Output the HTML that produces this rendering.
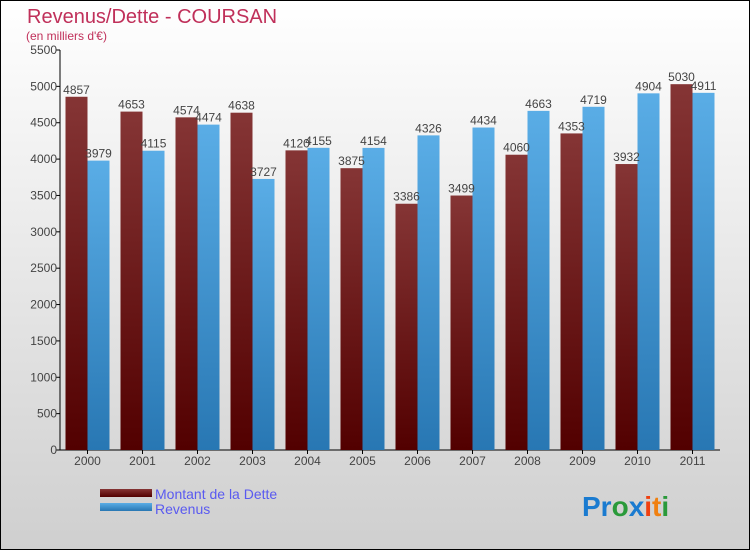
<!DOCTYPE html>
<html><head><meta charset="utf-8"><style>
body{margin:0}
#c{width:750px;height:550px;position:relative;box-sizing:border-box;border:1px solid #000;background:linear-gradient(#fff,#cfcfcf);font-family:"Liberation Sans",sans-serif;overflow:hidden}
</style></head><body>
<div id="c">
<svg width="750" height="550" style="position:absolute;left:-1px;top:-1px" id="s">
<defs>
<linearGradient id="gd" x1="0" y1="0" x2="0" y2="1"><stop offset="0" stop-color="#853535"/><stop offset="1" stop-color="#520000"/></linearGradient>
<linearGradient id="gr" x1="0" y1="0" x2="0" y2="1"><stop offset="0" stop-color="#5aade6"/><stop offset="1" stop-color="#2877b3"/></linearGradient>
</defs>
<text x="27" y="23" font-size="20" fill="#c0305a">Revenus/Dette - COURSAN</text>
<text x="26" y="40" font-size="12" fill="#c0305a">(en milliers d'€)</text>
<g id="ax"></g><g id="bars"></g>
<rect x="100" y="489" width="52" height="8" fill="url(#gd)"/>
<text x="155" y="499" font-size="14" fill="#5a5af0">Montant de la Dette</text>
<rect x="100" y="503" width="52" height="8" fill="url(#gr)"/>
<text x="155" y="514" font-size="14" fill="#5a5af0">Revenus</text>
<text x="582" y="516" font-size="28" font-weight="bold"><tspan fill="#1a7bd0">Pr</tspan><tspan fill="#2a9a3a">o</tspan><tspan fill="#1a7bd0">x</tspan><tspan fill="#f04010">i</tspan><tspan fill="#f08010">t</tspan><tspan fill="#2a9a3a">i</tspan></text>
</svg>
</div>
<script>
const years=["2000","2001","2002","2003","2004","2005","2006","2007","2008","2009","2010","2011"];
const dette=[4857,4653,4574,4638,4120,3875,3386,3499,4060,4353,3932,5030];
const revenus=[3979,4115,4474,3727,4155,4154,4326,4434,4663,4719,4904,4911];
const yTicks=[0,500,1000,1500,2000,2500,3000,3500,4000,4500,5000,5500];
const NS="http://www.w3.org/2000/svg";
const x0=60,x1=720,yb=450,yt=50,ymax=5500;
const y=v=>yb-v/ymax*(yb-yt);
const band=(x1-x0)/years.length;
const xc=i=>x0+band*(i+0.5);
function mk(t,a,p,txt){const e=document.createElementNS(NS,t);for(const k in a)e.setAttribute(k,a[k]);if(txt!=null)e.textContent=txt;p.appendChild(e);return e;}
const ax=document.getElementById('ax'),bars=document.getElementById('bars');
let e=mk('line',{x1:x0,y1:yt,x2:x0,y2:yb,stroke:'#000'},ax);


e=mk('line',{x1:x0,y1:yb,x2:x1,y2:yb,stroke:'#000'},ax);


yTicks.forEach(v=>{
 mk('line',{x1:x0-4,y1:y(v),x2:x0,y2:y(v),stroke:'#000'},ax);
 e=mk('text',{x:x0-3,y:y(v)+4,'font-size':12,fill:'#444','text-anchor':'end'},ax,v);
 
 
});
years.forEach((yr,i)=>{
 const c=xc(i);
 mk('line',{x1:c,y1:yb,x2:c,y2:yb+4,stroke:'#000'},ax);
 e=mk('text',{x:c,y:yb+15,'font-size':12,fill:'#444','text-anchor':'middle'},ax,yr);
 
 
 e=mk('rect',{x:c-22,y:y(dette[i]),width:22,height:yb-y(dette[i]),fill:'url(#gd)'},bars);
 
 
 e=mk('rect',{x:c,y:y(revenus[i]),width:22,height:yb-y(revenus[i]),fill:'url(#gr)'},bars);
 
 
 e=mk('text',{x:c-11,y:y(dette[i])-3,'font-size':12,fill:'#444','text-anchor':'middle'},bars,dette[i]);
 
 
 e=mk('text',{x:c+11,y:y(revenus[i])-3,'font-size':12,fill:'#444','text-anchor':'middle'},bars,revenus[i]);
 
 
});
</script>
</body></html>
